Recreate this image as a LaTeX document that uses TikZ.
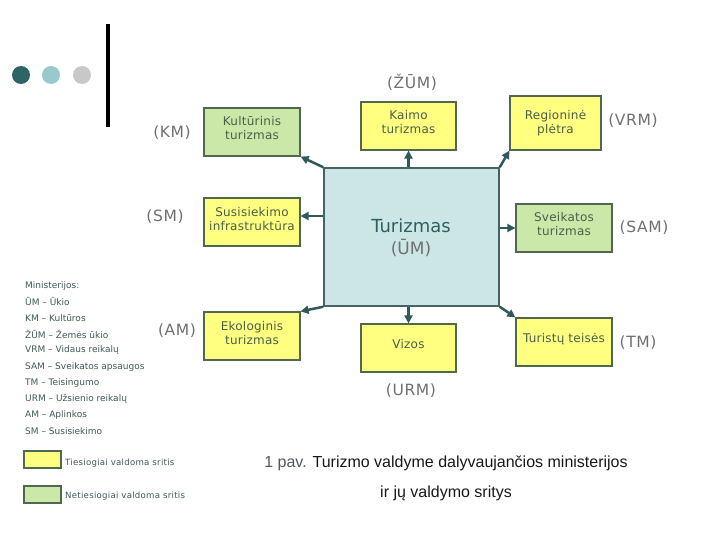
\documentclass[tikz,border=0pt]{standalone}
\usepackage{fontspec}
\setmainfont{DejaVu Sans}
\newfontfamily\boxfont[LetterSpace=2]{DejaVu Sans}
\newfontfamily\lblfont[LetterSpace=4]{DejaVu Sans}
\newfontfamily\legfont[LetterSpace=3]{DejaVu Sans}
\newfontfamily\capfont{Liberation Sans}
\usetikzlibrary{arrows.meta,calc}
\definecolor{yfill}{RGB}{255,255,128}
\definecolor{gfill}{RGB}{204,232,168}
\definecolor{cfill}{RGB}{204,230,230}
\definecolor{boxline}{RGB}{80,104,80}
\definecolor{cline}{RGB}{70,100,100}
\definecolor{arrowc}{RGB}{47,90,90}
\definecolor{btextc}{RGB}{74,96,74}
\definecolor{lblc}{RGB}{112,112,112}
\definecolor{tealtext}{RGB}{47,96,96}
\definecolor{legc}{RGB}{64,88,88}
\definecolor{capgray}{RGB}{80,88,96}
\definecolor{capblack}{RGB}{24,24,24}
\definecolor{dotA}{RGB}{46,100,100}
\definecolor{dotB}{RGB}{150,202,204}
\definecolor{dotC}{RGB}{200,200,200}
\begin{document}
\begin{tikzpicture}[x=1pt,y=-1pt,
  ybox/.style={draw=boxline,fill=yfill,line width=1.2pt,inner sep=0pt},
  gbox/.style={draw=boxline,fill=gfill,line width=1.2pt,inner sep=0pt},
  btext/.style={text=btextc,align=center,inner sep=0pt,font=\boxfont\fontsize{12}{14}\selectfont},
  lbl/.style={text=lblc,inner sep=0pt,font=\lblfont\fontsize{15.5}{17}\selectfont},
  legtext/.style={text=legc,inner sep=0pt,anchor=west,font=\fontsize{9}{10}\selectfont},
  conn/.style={draw=arrowc,line width=2.5pt,-{Triangle[length=8pt,width=8pt]},shorten >=0pt}
]
\useasboundingbox (0,0) rectangle (720,540);
% decoration
\fill[dotA] (21,75) circle (9pt);
\fill[dotB] (51,75) circle (9pt);
\fill[dotC] (82,75) circle (9pt);
\fill[black] (106,24) rectangle (110,127);

% central box
\node[draw=cline,fill=cfill,line width=1.5pt,minimum width=175pt,minimum height=138pt,inner sep=0pt] (center) at (411.5,237) {};
\node[text=tealtext,inner sep=0pt,font=\fontsize{18}{20}\selectfont] (turt) at (411,226) {Turizmas};
\node[text=lblc,inner sep=0pt,font=\fontsize{17}{20}\selectfont] (umt) at (411,248) {(ŪM)};

% boxes
\node[gbox,minimum width=96pt,minimum height=48pt] (kult) at (252,132) {};
\node[btext] (kultt) at (252,128.5) {Kultūrinis\\turizmas};
\node[ybox,minimum width=95pt,minimum height=48pt] (kaimo) at (408.5,126) {};
\node[btext] (kaimot) at (408.5,122) {Kaimo\\turizmas};
\node[ybox,minimum width=91pt,minimum height=54pt] (reg) at (555.5,123) {};
\node[btext] (regt) at (555.5,123) {Regioninė\\plėtra};
\node[ybox,minimum width=96pt,minimum height=48pt] (susi) at (252,222) {};
\node[btext] (susit) at (252,219) {Susisiekimo\\infrastruktūra};
\node[gbox,minimum width=96pt,minimum height=48pt] (sveik) at (564,228) {};
\node[btext] (sveikt) at (564,224) {Sveikatos\\turizmas};
\node[ybox,minimum width=96pt,minimum height=48pt] (eko) at (252,336) {};
\node[btext] (ekot) at (252,333) {Ekologinis\\turizmas};
\node[ybox,minimum width=95pt,minimum height=48pt] (vizos) at (408.5,348) {};
\node[btext] (vizost) at (408.5,344) {Vizos};
\node[ybox,minimum width=96pt,minimum height=48pt] (tur) at (564,342) {};
\node[btext] (turt2) at (564,339) {Turistų teisės};

% ministry labels
\node[lbl] (zum) at (412,82) {(ŽŪM)};
\node[lbl] (km) at (172,133) {(KM)};
\node[lbl] (sm) at (165,217) {(SM)};
\node[lbl] (vrm) at (633,121) {(VRM)};
\node[lbl] (sam) at (644,228) {(SAM)};
\node[lbl] (am) at (177,331) {(AM)};
\node[lbl] (tm) at (638,343) {(TM)};
\node[lbl] (urm) at (411,391) {(URM)};

% connectors
\draw[conn] (center.north west) -- (kult.south east);
\draw[conn] (kaimo.south |- center.north) -- (kaimo.south);
\draw[conn] (center.north east) -- (reg.south west);
\draw[conn] ([yshift=6pt]susi.east -| center.west) -- ([yshift=6pt]susi.east);
\draw[conn] (sveik.west -| center.east) -- (sveik.west);
\draw[conn] (center.south west) -- (eko.north east);
\draw[conn] (vizos.north |- center.south) -- (vizos.north);
\draw[conn] (center.south east) -- (tur.north west);

% legend of ministries
\node[legtext] (l0) at (25,286) {Ministerijos:};
\node[legtext] (l1) at (25,302) {ŪM – Ūkio};
\node[legtext] (l2) at (25,318) {KM – Kultūros};
\node[legtext] (l3) at (25,334) {ŽŪM – Žemės ūkio};
\node[legtext] (l4) at (25,350) {VRM – Vidaus reikalų};
\node[legtext] (l5) at (25,367) {SAM – Sveikatos apsaugos};
\node[legtext] (l6) at (25,383) {TM – Teisingumo};
\node[legtext] (l7) at (25,399) {URM – Užsienio reikalų};
\node[legtext] (l8) at (25,415) {AM – Aplinkos};
\node[legtext] (l9) at (25,431) {SM – Susisiekimo};

% colour legend
\node[ybox,minimum width=37pt,minimum height=17pt] (legy) at (42.5,459.5) {};
\node[legtext,font=\legfont\fontsize{8.6}{9}\selectfont] (legyt) at (65,463) {Tiesiogiai valdoma sritis};
\node[gbox,minimum width=37pt,minimum height=17pt] (legg) at (42.5,494.5) {};
\node[legtext,font=\legfont\fontsize{8.6}{9}\selectfont] (leggt) at (65,496) {Netiesiogiai valdoma sritis};

% caption
\node[inner sep=0pt,text=capblack,font=\capfont\fontsize{16}{18}\selectfont] (cap1) at (446,463) {{\color{capgray}1 pav.} Turizmo valdyme dalyvaujančios ministerijos};
\node[inner sep=0pt,text=capblack,font=\capfont\fontsize{16}{18}\selectfont] (cap2) at (446,493) {ir jų valdymo sritys};
\end{tikzpicture}
\end{document}
